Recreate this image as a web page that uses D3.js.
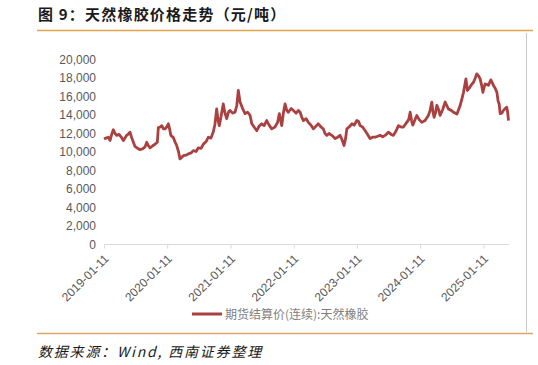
<!DOCTYPE html>
<html>
<head>
<meta charset="utf-8">
<script src="https://cdn.jsdelivr.net/npm/d3@7"></script>
<style>
  body { margin: 0; background: #fff; }
  svg { display: block; font-family: "Liberation Sans", Arial, sans-serif; }
</style>
</head>
<body>
<div id="chart"></div>
<script>
// 期货结算价(连续):天然橡胶
const dates = [
  "2019-01-11","2019-01-22","2019-02-05","2019-02-15","2019-02-26","2019-03-06","2019-03-16","2019-03-25",
  "2019-04-08","2019-04-23","2019-05-03","2019-05-12","2019-05-22","2019-06-02","2019-06-10","2019-06-20",
  "2019-07-01","2019-07-09","2019-07-24","2019-08-07","2019-08-22","2019-09-05","2019-09-15","2019-09-24",
  "2019-10-04","2019-10-18","2019-11-02","2019-11-15","2019-11-21","2019-12-01","2019-12-11","2019-12-20",
  "2019-12-30","2020-01-08","2020-01-18","2020-01-25","2020-02-01","2020-02-16","2020-02-25","2020-03-06",
  "2020-03-17","2020-03-25","2020-04-03","2020-04-13","2020-04-29","2020-05-12","2020-05-28","2020-06-10",
  "2020-06-26","2020-07-09","2020-07-25","2020-08-07","2020-08-22","2020-09-05","2020-09-20","2020-10-03",
  "2020-10-13","2020-10-23","2020-10-31","2020-11-07","2020-11-17","2020-11-30","2020-12-10","2020-12-20",
  "2020-12-30","2021-01-08","2021-01-23","2021-02-06","2021-02-16","2021-02-25","2021-03-07","2021-03-22",
  "2021-04-05","2021-04-20","2021-05-04","2021-05-14","2021-05-27","2021-06-12","2021-06-25","2021-07-10",
  "2021-07-24","2021-08-08","2021-08-22","2021-09-06","2021-09-25","2021-10-10","2021-10-20","2021-11-03",
  "2021-11-13","2021-11-22","2021-12-02","2021-12-11","2021-12-27","2022-01-09","2022-01-25","2022-02-07",
  "2022-02-17","2022-02-27","2022-03-08","2022-03-24","2022-04-06","2022-04-21","2022-05-05","2022-05-20",
  "2022-06-02","2022-06-18","2022-07-01","2022-07-11","2022-07-21","2022-08-03","2022-08-19","2022-09-07",
  "2022-09-22","2022-10-06","2022-10-18","2022-10-29","2022-11-07","2022-11-14","2022-11-27","2022-12-13",
  "2022-12-26","2023-01-11","2023-01-21","2023-01-30","2023-02-13","2023-02-28","2023-03-14","2023-03-28",
  "2023-04-12","2023-04-27","2023-05-11","2023-05-25","2023-06-09","2023-06-23","2023-07-03","2023-07-12",
  "2023-07-28","2023-08-10","2023-08-26","2023-09-08","2023-09-24","2023-10-07","2023-10-26","2023-11-06",
  "2023-11-15","2023-11-23","2023-11-30","2023-12-11","2023-12-23","2024-01-06","2024-01-21","2024-02-09",
  "2024-02-28","2024-03-09","2024-03-19","2024-03-26","2024-04-01","2024-04-10","2024-04-17","2024-04-27",
  "2024-05-06","2024-05-21","2024-06-04","2024-06-23","2024-07-09","2024-07-22","2024-08-11","2024-08-21",
  "2024-08-30","2024-09-08","2024-09-18","2024-10-02","2024-10-11","2024-10-21","2024-10-31","2024-11-15",
  "2024-11-25","2024-12-04","2024-12-15","2024-12-23","2025-01-01","2025-01-08","2025-01-15","2025-01-21",
  "2025-01-31","2025-02-09","2025-02-23","2025-03-03","2025-03-10","2025-03-20","2025-03-30","2025-04-06",
  "2025-04-12","2025-04-18","2025-04-27","2025-05-07","2025-05-17","2025-05-26","2025-05-31","2025-06-05"
];
const prices = [
  11400,11500,11600,11250,12000,12400,12000,11800,
  11900,11550,11250,11500,11800,11950,12150,11550,
  11000,10600,10400,10250,10350,10550,11050,10700,
  10450,10650,10850,11050,12650,12700,12850,12500,
  12500,12700,13050,12500,11800,11550,11100,10700,
  10000,9250,9400,9600,9650,9800,9900,10150,
  10050,10450,10400,10850,11100,11600,11500,12150,
  13000,14650,13500,12850,13800,15200,14200,13600,
  14300,14500,14200,14300,15000,16650,15400,14700,
  14150,14300,13950,13050,12700,12300,12800,13050,
  12850,13400,12900,12500,12700,13200,14150,12850,
  14300,15200,14500,14300,14700,14500,14200,14500,
  14300,13750,13400,13600,13200,12900,12500,12800,
  13050,12700,12500,12000,11800,12000,11800,11450,
  11600,11800,11300,10700,11500,12500,12700,13050,
  12900,13400,13300,12850,12700,12300,11900,11450,
  11600,11600,11700,11800,11650,11800,11950,12150,
  11900,11800,12300,12850,12700,12700,13200,13500,
  14300,13400,12900,13400,13950,13500,13200,13400,
  13950,14500,15400,14300,13750,14300,15050,14600,
  13950,14600,15400,14650,14500,14300,14100,14600,
  15050,15700,16450,17900,16650,16900,17200,17550,
  18000,18450,18200,17900,17200,16450,17000,17350,
  17300,17200,17800,17500,17200,16900,16450,15500,
  15200,14150,14200,14500,14700,14850,14300,13400
];
const yTicks = [0, 2000, 4000, 6000, 8000, 10000, 12000, 14000, 16000, 18000, 20000];
const xTicks = ["2019-01-11","2020-01-11","2021-01-11","2022-01-11","2023-01-11","2024-01-11","2025-01-11"];
const seriesName = "期货结算价(连续):天然橡胶";
const title = "图 9：天然橡胶价格走势（元/吨）";
const source = "数据来源：Wind, 西南证券整理";

const W = 538, H = 365;
const lineColor = "#ab4040";
const parse = d3.timeParse("%Y-%m-%d");
const data = dates.map((d, i) => ({ date: parse(d), value: prices[i] }));

const svg = d3.select("#chart").append("svg")
    .attr("width", W)
    .attr("height", H);

// frame: orange rules top and bottom, grey rule on the right
svg.append("text")
    .attr("x", 38).attr("y", 20)
    .attr("font-family", "'Noto Sans CJK SC', sans-serif")
    .attr("font-size", 15).attr("font-weight", "bold")
    .attr("letter-spacing", 1.2)
    .attr("fill", "#1a1a1a")
    .text(title);
svg.append("line").attr("x1", 37).attr("x2", 533).attr("y1", 30.5).attr("y2", 30.5)
    .attr("stroke", "#e2a54b").attr("stroke-width", 1.5);
svg.append("line").attr("x1", 526.5).attr("x2", 526.5).attr("y1", 33).attr("y2", 332)
    .attr("stroke", "#c8c8c8").attr("stroke-width", 1);
svg.append("line").attr("x1", 37).attr("x2", 533).attr("y1", 333.5).attr("y2", 333.5)
    .attr("stroke", "#d9a866").attr("stroke-width", 1.5);
svg.append("text")
    .attr("x", 38).attr("y", 357)
    .attr("font-family", "'Noto Sans CJK SC', sans-serif")
    .attr("font-size", 14).attr("font-style", "italic")
    .attr("letter-spacing", 1.8)
    .attr("fill", "#1a1a1a")
    .text(source);

// scales
const x = d3.scaleTime()
    .domain(d3.extent(data, d => d.date))
    .range([104, 508.5]);
const y = d3.scaleLinear()
    .domain([0, 20000])
    .range([244.5, 59.5]);

// y axis: labels only
const yAxis = svg.append("g")
    .attr("transform", "translate(100,0)")
    .call(d3.axisLeft(y).tickValues(yTicks).tickSize(0).tickPadding(4).tickFormat(d3.format(",")));
yAxis.select(".domain").remove();
yAxis.selectAll("text")
    .attr("font-size", 12)
    .attr("fill", "#595959")
    .attr("font-family", "'Liberation Sans', Arial, sans-serif");

// x axis
const xAxis = svg.append("g")
    .attr("transform", "translate(0,244.5)")
    .call(d3.axisBottom(x).tickValues(xTicks.map(parse)).tickSize(4).tickSizeOuter(0)
        .tickFormat(d3.timeFormat("%Y-%m-%d")));
xAxis.select(".domain").attr("stroke", "#d9d9d9").attr("d", "M104,0H509");
xAxis.selectAll(".tick line").attr("stroke", "#d9d9d9");
xAxis.selectAll(".tick text")
    .attr("font-size", 12)
    .attr("fill", "#595959")
    .attr("font-family", "'Liberation Sans', Arial, sans-serif")
    .attr("text-anchor", "end")
    .attr("dy", null)
    .attr("y", 0)
    .attr("transform", "translate(5,15) rotate(-45)");

// series line
svg.append("path")
    .datum(data)
    .attr("fill", "none")
    .attr("stroke", lineColor)
    .attr("stroke-width", 2.8)
    .attr("stroke-linejoin", "round")
    .attr("d", d3.line().x(d => x(d.date)).y(d => y(d.value)));

// legend
const legend = svg.append("g").attr("transform", "translate(192,314)");
legend.append("line").attr("x1", 0).attr("x2", 30).attr("y1", 0).attr("y2", 0)
    .attr("stroke", lineColor).attr("stroke-width", 3);
legend.append("text")
    .attr("x", 33).attr("y", 4.5)
    .attr("font-family", "'Noto Sans CJK SC', sans-serif")
    .attr("font-size", 12)
    .attr("fill", "#7f7f7f")
    .text(seriesName);
</script>
</body>
</html>
